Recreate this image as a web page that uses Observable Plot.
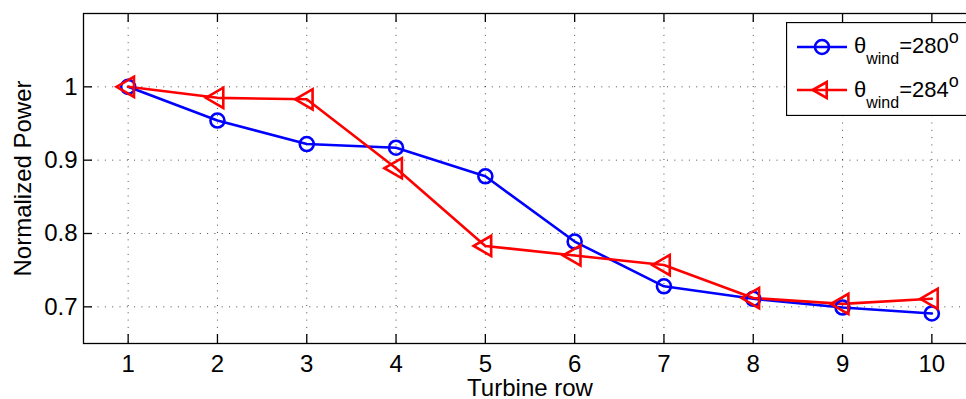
<!DOCTYPE html>
<html>
<head>
<meta charset="utf-8">
<script src="https://cdn.jsdelivr.net/npm/d3@7"></script>
<script src="https://cdn.jsdelivr.net/npm/@observablehq/plot@0.6"></script>
<style>
  html, body { margin: 0; padding: 0; background: #fff; overflow: hidden; width: 966px; height: 399px; }
  #wrap { position: relative; width: 990px; height: 399px; }
  #legend { position: absolute; left: 786px; top: 22px; }
  svg { display: block; }
</style>
</head>
<body>
<div id="wrap"></div>
<script>
// ---- data ----
const turbineRows = [1, 2, 3, 4, 5, 6, 7, 8, 9, 10];
const power280 = [1.000, 0.954, 0.922, 0.917, 0.878, 0.789, 0.728, 0.711, 0.699, 0.691];
const power284 = [1.000, 0.985, 0.983, 0.889, 0.783, 0.770, 0.757, 0.712, 0.704, 0.711];
const xTicks = [1, 2, 3, 4, 5, 6, 7, 8, 9, 10];
const yTicks = [0.7, 0.8, 0.9, 1];
const windAngles = ["280", "284"];
const xLabel = "Turbine row";
const yLabel = "Normalized Power";

const blue = "#0000ff", red = "#ff0000";
const d280 = turbineRows.map((r, i) => ({row: r, p: power280[i]}));
const d284 = turbineRows.map((r, i) => ({row: r, p: power284[i]}));

const W = 990, H = 399, mL = 83, mR = 14, mT = 13, mB = 56;
const plotW = W - mL - mR, plotH = H - mT - mB;
const tickLen = 9;
const gridStyle = {stroke: "#000", strokeOpacity: 0.7, strokeWidth: 1, strokeDasharray: "1,6.3"};

const chart = Plot.plot({
  width: W, height: H,
  marginLeft: mL, marginRight: mR, marginTop: mT, marginBottom: mB,
  x: {domain: [0.5, 10.5]},
  y: {domain: [0.65, 1.1]},
  style: {fontFamily: "'Liberation Sans', Arial, sans-serif", fontSize: "24px", color: "#000", background: "#fff"},
  marks: [
    Plot.gridX(xTicks, {x: d => d, ...gridStyle}),
    Plot.gridY(yTicks, {y: d => d, ...gridStyle}),
    Plot.frame({stroke: "#000", strokeWidth: 1.3}),
    Plot.tickX(xTicks, {x: d => d, stroke: "#000", strokeWidth: 1.3, insetTop: plotH - tickLen}),
    Plot.tickX(xTicks, {x: d => d, stroke: "#000", strokeWidth: 1.3, insetBottom: plotH - tickLen}),
    Plot.tickY(yTicks, {y: d => d, stroke: "#000", strokeWidth: 1.3, insetRight: plotW - tickLen}),
    Plot.tickY(yTicks, {y: d => d, stroke: "#000", strokeWidth: 1.3, insetLeft: plotW - tickLen}),
    Plot.axisX(xTicks, {tickSize: 0, tickPadding: 11, fontSize: 24, label: xLabel, labelAnchor: "center", labelOffset: 52, labelArrow: "none"}),
    Plot.axisY(yTicks, {tickSize: 0, tickPadding: 6, fontSize: 24, tickFormat: d => String(d), label: yLabel, labelAnchor: "center", labelOffset: 70, labelArrow: "none"}),
    Plot.line(d280, {x: "row", y: "p", stroke: blue, strokeWidth: 2.6}),
    Plot.line(d284, {x: "row", y: "p", stroke: red, strokeWidth: 2.6}),
    Plot.dot(d280, {x: "row", y: "p", r: 7, stroke: blue, strokeWidth: 2.6, fill: "none"}),
    Plot.dot(d284, {x: "row", y: "p", r: 7.5, symbol: "triangle", rotate: -90, stroke: red, strokeWidth: 2.6, fill: "none"})
  ]
});
document.getElementById("wrap").appendChild(chart);

// ---- legend ----
const lg = d3.select("#wrap").append("svg")
  .attr("id", "legend").attr("width", 200).attr("height", 94)
  .style("font-family", "'Liberation Sans', Arial, sans-serif");
lg.append("rect").attr("x", 0.5).attr("y", 0.5).attr("width", 199).attr("height", 93)
  .attr("fill", "#fff").attr("stroke", "#000").attr("stroke-width", 1.3);
const entries = [
  {angle: windAngles[0], color: blue, kind: "circle", ly: 25, by: 31},
  {angle: windAngles[1], color: red, kind: "tri", ly: 68, by: 75}
];
entries.forEach(e => {
  lg.append("line").attr("x1", 11).attr("x2", 61).attr("y1", e.ly).attr("y2", e.ly)
    .attr("stroke", e.color).attr("stroke-width", 2.6);
  if (e.kind === "circle") {
    lg.append("circle").attr("cx", 36).attr("cy", e.ly).attr("r", 7)
      .attr("fill", "none").attr("stroke", e.color).attr("stroke-width", 2.6);
  } else {
    const cx = 36, cy = e.ly;
    lg.append("path").attr("d", `M${cx - 9.3},${cy}L${cx + 4.7},${cy - 8}L${cx + 4.7},${cy + 8}Z`)
      .attr("fill", "none").attr("stroke", e.color).attr("stroke-width", 2.6);
  }
  const t = lg.append("text").attr("x", 68).attr("y", e.by).attr("fill", "#000");
  t.append("tspan").attr("font-size", 22).text("θ");
  t.append("tspan").attr("font-size", 16).attr("dy", 11).text("wind");
  t.append("tspan").attr("font-size", 22).attr("dy", -11).text("=" + e.angle);
  t.append("tspan").attr("font-size", 18).attr("dy", -10).text("o");
});
</script>
</body>
</html>
